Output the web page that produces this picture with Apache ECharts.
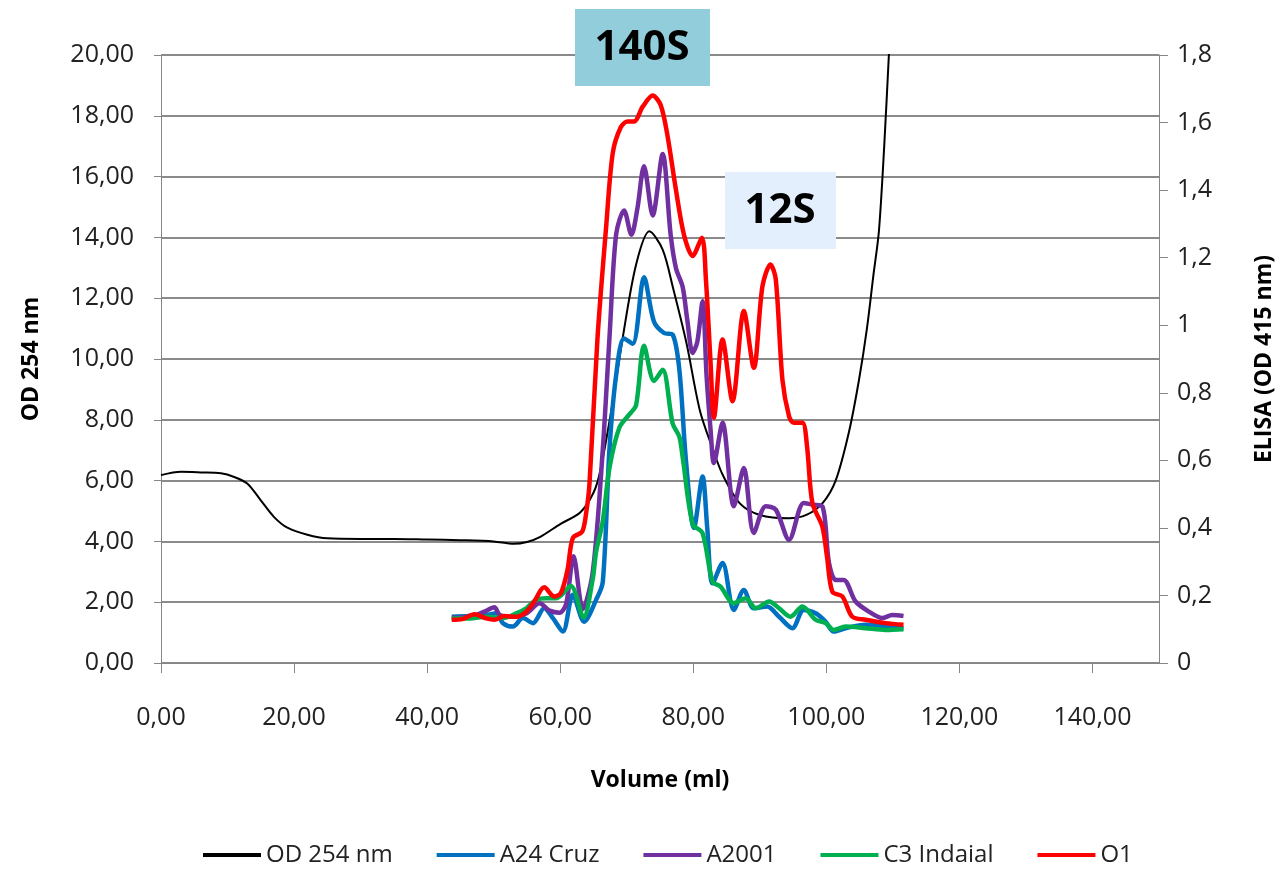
<!DOCTYPE html>
<html>
<head>
<meta charset="utf-8">
<script src="https://cdn.jsdelivr.net/npm/echarts@6/dist/echarts.min.js"></script>
<style>
  html, body { margin: 0; padding: 0; background: #fff; }
  #chart { width: 1284px; height: 869px; }
</style>
</head>
<body>
<div id="chart"></div>
<script>
// volume (ml) / value pairs
const od254 = [
  [0, 6.18], [3, 6.29], [6, 6.27], [9, 6.24], [11, 6.12], [13, 5.9], [15, 5.35], [17, 4.8],
  [19, 4.45], [22, 4.22], [25, 4.1], [30, 4.08], [35, 4.08], [40, 4.06], [45, 4.04], [50, 4.0],
  [53, 3.92], [55, 3.98], [57, 4.15], [60, 4.57], [63, 4.95], [65, 5.6], [66, 6.3], [67.6, 8.2],
  [69.4, 10.7], [71.4, 13.1], [73.4, 14.2], [75.4, 13.6], [77, 12.3], [79, 10.5], [81, 8.3],
  [83, 7.0], [84.4, 6.2], [87, 5.25], [90, 4.87], [94.4, 4.76], [97, 4.87], [99.4, 5.25],
  [101.4, 6.0], [103.4, 7.6], [104.9, 9.3], [106.1, 11], [107.1, 12.8], [107.9, 14.2],
  [108.7, 17], [109.4, 20], [110, 22.5]
]
const a24Cruz = [
  [43.7, 0.137], [46.4, 0.139], [48.9, 0.142], [50.4, 0.147], [51.4, 0.118], [52.9, 0.108],
  [54.4, 0.133], [55.9, 0.118], [57.6, 0.162], [58.9, 0.133], [60.4, 0.093], [61.9, 0.202],
  [63.6, 0.122], [65.4, 0.187], [66.4, 0.24], [67.4, 0.632], [68.4, 0.851], [69.6, 0.961],
  [70.9, 0.945], [72.6, 1.142], [74.1, 1.01], [75.6, 0.977], [76.9, 0.972], [77.9, 0.87],
  [78.9, 0.6], [80.1, 0.4], [81.4, 0.552], [82.1, 0.4], [82.9, 0.236], [84.4, 0.296],
  [86.1, 0.157], [87.6, 0.216], [89.1, 0.162], [91.1, 0.167], [92.9, 0.137], [94.9, 0.103],
  [96.6, 0.157], [98.4, 0.147], [99.9, 0.122], [101.1, 0.093], [102.9, 0.103], [105.9, 0.113],
  [108.9, 0.108], [111.6, 0.103]
]
const a2001 = [
  [43.7, 0.134], [46.4, 0.137], [48.6, 0.152], [50.1, 0.165], [50.9, 0.142], [52.4, 0.137],
  [54.9, 0.147], [56.9, 0.177], [58.4, 0.155], [59.9, 0.149], [60.9, 0.175], [62.0, 0.316],
  [63.4, 0.16], [64.9, 0.27], [66.4, 0.632], [67.4, 0.961], [68.4, 1.268], [69.6, 1.34],
  [70.7, 1.268], [71.6, 1.345], [72.6, 1.471], [73.9, 1.325], [75.4, 1.507], [76.6, 1.268],
  [77.4, 1.169], [78.4, 1.114], [79.1, 1.016], [79.9, 0.918], [80.6, 0.95], [81.4, 1.071],
  [82.0, 0.85], [82.6, 0.691], [83.1, 0.592], [84.4, 0.711], [86.1, 0.464], [87.6, 0.577],
  [89.1, 0.385], [90.9, 0.464], [92.4, 0.454], [94.4, 0.365], [96.6, 0.474], [97.9, 0.469],
  [99.4, 0.464], [100.4, 0.296], [101.4, 0.246], [102.6, 0.246], [104.4, 0.182],
  [106.4, 0.152], [108.4, 0.133], [109.9, 0.142], [111.6, 0.139]
]
const c3Indaial = [
  [43.7, 0.132], [46.4, 0.132], [48.9, 0.137], [51.4, 0.133], [53.4, 0.147], [54.9, 0.162],
  [56.4, 0.187], [57.9, 0.192], [59.4, 0.192], [61.6, 0.228], [63.5, 0.135], [64.9, 0.25],
  [65.4, 0.33], [66.4, 0.42], [67.4, 0.577], [68.9, 0.697], [70.4, 0.736], [71.4, 0.763],
  [72.6, 0.939], [74.1, 0.835], [75.4, 0.868], [76.9, 0.709], [77.9, 0.67], [78.4, 0.61],
  [79.9, 0.412], [81.4, 0.384], [82.9, 0.241], [84.1, 0.226], [86.1, 0.177], [87.9, 0.192],
  [89.4, 0.162], [91.4, 0.182], [92.9, 0.162], [94.6, 0.137], [96.4, 0.167], [98.4, 0.128],
  [99.9, 0.118], [101.1, 0.098], [102.9, 0.108], [105.9, 0.103], [108.9, 0.098], [111.6, 0.1]
]
const o1 = [
  [43.7, 0.128], [45.3, 0.13], [47.1, 0.144], [48.9, 0.132], [50.1, 0.128], [51.6, 0.139],
  [53.4, 0.137], [54.9, 0.152], [56.1, 0.182], [57.6, 0.224], [59.1, 0.197], [60.1, 0.207],
  [61.1, 0.276], [61.9, 0.37], [63.3, 0.389], [63.9, 0.444], [64.4, 0.53], [65.6, 0.96],
  [66.9, 1.29], [67.9, 1.51], [69.1, 1.586], [70.1, 1.603], [71.1, 1.603], [72.4, 1.647],
  [73.9, 1.68], [75.1, 1.652], [76.1, 1.564], [77.4, 1.40], [78.6, 1.268], [79.9, 1.205],
  [81.3, 1.259], [81.9, 1.136], [82.6, 0.889], [83.1, 0.726], [84.4, 0.958], [85.9, 0.775],
  [87.6, 1.042], [89.1, 0.874], [90.4, 1.116], [91.6, 1.18], [92.4, 1.136], [93.4, 0.839],
  [94.4, 0.73], [95.1, 0.711], [96.4, 0.711], [97.1, 0.641], [97.9, 0.474], [99.4, 0.404],
  [100.1, 0.315], [100.9, 0.211], [102.4, 0.197], [103.9, 0.137], [105.9, 0.128],
  [108.9, 0.118], [111.6, 0.113]
]
const xTicks = [0, 20, 40, 60, 80, 100, 120, 140]
const seriesNames = ['OD 254 nm', 'A24 Cruz', 'A2001', 'C3 Indaial', 'O1']

const font = "'Open Sans', 'Noto Sans', sans-serif"
const axisGray = '#868686'

const chart = echarts.init(document.getElementById('chart'), null, { renderer: 'canvas' })

const lineSeries = (name, data, color, width, yIdx) => ({
  name: name,
  type: 'line',
  yAxisIndex: yIdx,
  data: data,
  symbol: 'none',
  smooth: 0.3,
  lineStyle: { color: color, width: width },
  itemStyle: { color: color }
})

chart.setOption({
  animation: false,
  backgroundColor: '#fff',
  textStyle: { fontFamily: font },
  grid: { left: 161, right: 123, top: 55, bottom: 206 },
  legend: {
    data: seriesNames,
    left: 198,
    top: 838,
    icon: 'rect',
    itemWidth: 58,
    itemHeight: 4,
    itemGap: 44,
    textStyle: { fontSize: 24, color: '#222', fontFamily: font }
  },
  xAxis: {
    type: 'value',
    min: 0,
    max: 150,
    interval: 20,
    name: 'Volume (ml)',
    nameLocation: 'middle',
    nameGap: 106,
    nameTextStyle: { fontSize: 23, fontWeight: 'bold', color: '#000' },
    axisLine: { lineStyle: { color: axisGray, width: 1 } },
    axisTick: { show: true, length: 10, customValues: xTicks, lineStyle: { color: axisGray } },
    axisLabel: {
      customValues: xTicks,
      fontSize: 25, color: '#222', margin: 42,
      formatter: v => v.toFixed(2).replace('.', ',')
    },
    splitLine: { show: false }
  },
  yAxis: [
    {
      type: 'value',
      min: 0,
      max: 20,
      interval: 2,
      name: 'OD 254 nm',
      nameLocation: 'middle',
      nameRotate: 90,
      nameGap: 118,
      nameTextStyle: { fontSize: 23, fontWeight: 'bold', color: '#000' },
      axisLine: { show: true, lineStyle: { color: axisGray, width: 1 } },
      axisTick: { show: true, length: 7, lineStyle: { color: axisGray } },
      axisLabel: {
        fontSize: 25, color: '#222', margin: 27,
        formatter: v => v.toFixed(2).replace('.', ',')
      },
      splitLine: { show: true, lineStyle: { color: '#8a8a8a', width: 2 } }
    },
    {
      type: 'value',
      position: 'right',
      min: 0,
      max: 1.8,
      interval: 0.2,
      name: 'ELISA (OD 415 nm)',
      nameLocation: 'middle',
      nameRotate: 90,
      nameGap: 94,
      nameTextStyle: { fontSize: 23, fontWeight: 'bold', color: '#000' },
      axisLine: { show: true, lineStyle: { color: axisGray, width: 1 } },
      axisTick: { show: true, length: 9, lineStyle: { color: axisGray } },
      axisLabel: {
        fontSize: 25, color: '#222', margin: 18,
        formatter: v => String(Math.round(v * 10) / 10).replace('.', ',')
      },
      splitLine: { show: false }
    }
  ],
  series: [
    lineSeries(seriesNames[0], od254, '#000000', 2, 0),
    lineSeries(seriesNames[1], a24Cruz, '#0070C0', 4.5, 1),
    lineSeries(seriesNames[2], a2001, '#7030A0', 4.5, 1),
    lineSeries(seriesNames[3], c3Indaial, '#00B050', 4.5, 1),
    lineSeries(seriesNames[4], o1, '#FF0000', 4.5, 1)
  ],
  graphic: [
    {
      type: 'rect', left: 575, top: 9, z: 100,
      shape: { width: 135, height: 77 },
      style: { fill: '#92CDDC' }
    },
    {
      type: 'text', x: 642, y: 48, z: 101,
      style: {
        text: '140S', fill: '#000', font: "bold 42px 'Open Sans', sans-serif",
        textAlign: 'center', textVerticalAlign: 'middle'
      }
    },
    {
      type: 'rect', left: 725, top: 172, z: 100,
      shape: { width: 111, height: 77 },
      style: { fill: '#E3EFFC' }
    },
    {
      type: 'text', x: 780, y: 211, z: 101,
      style: {
        text: '12S', fill: '#000', font: "bold 42px 'Open Sans', sans-serif",
        textAlign: 'center', textVerticalAlign: 'middle'
      }
    }
  ]
})
</script>
</body>
</html>
